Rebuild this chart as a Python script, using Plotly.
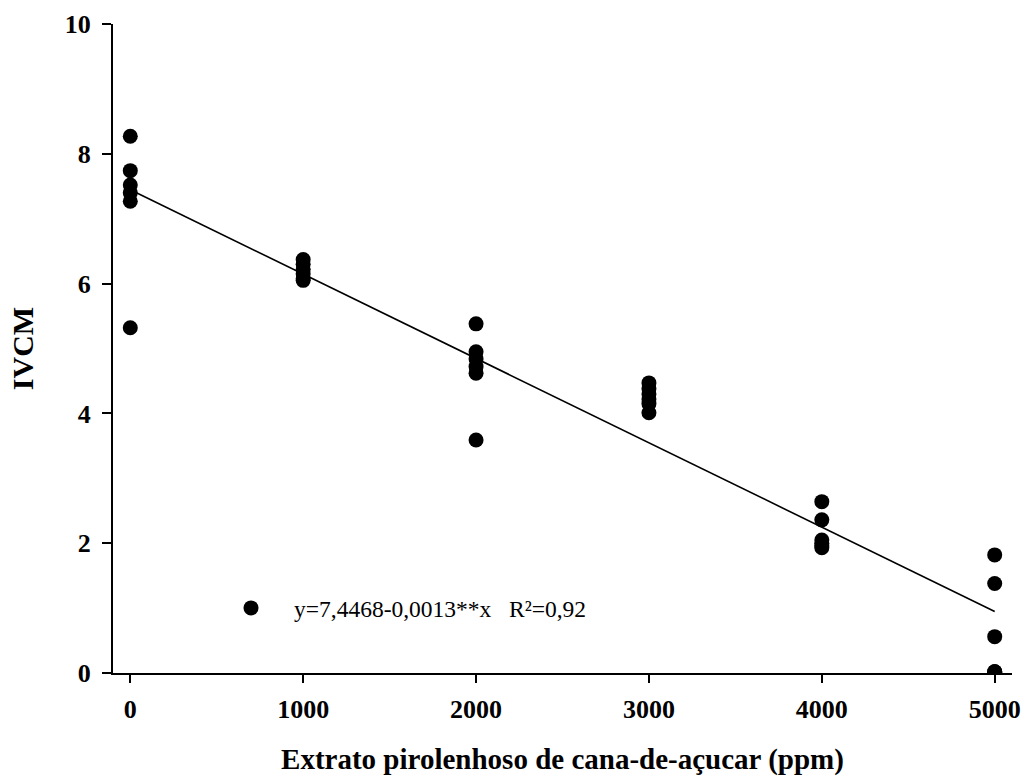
import plotly.graph_objects as go

# Doses of sugarcane pyroligneous extract (ppm) and observed IVCM per replicate
dose_ppm = [0] * 6 + [1000] * 6 + [2000] * 6 + [3000] * 6 + [4000] * 6 + [5000] * 6
ivcm = [
    8.27, 7.74, 7.52, 7.40, 7.27, 5.32,
    6.37, 6.30, 6.22, 6.15, 6.08, 6.05,
    5.38, 4.95, 4.84, 4.72, 4.62, 3.59,
    4.47, 4.38, 4.30, 4.22, 4.15, 4.01,
    2.64, 2.36, 2.05, 2.00, 1.96, 1.93,
    1.82, 1.38, 0.56, 0.02, 0.02, 0.02,
]

# Fitted linear model y = a + b*x
intercept = 7.4468
slope = -0.0013
fit_x = [0, 5000]
fit_y = [intercept + slope * v for v in fit_x]
equation_label = "y=7,4468-0,0013**x\u00a0\u00a0\u00a0R\u00b2=0,92"

x_ticks = [0, 1000, 2000, 3000, 4000, 5000]
y_ticks = [0, 2, 4, 6, 8, 10]

FONT = "Liberation Serif, Times New Roman, serif"

fig = go.Figure()
fig.add_trace(go.Scatter(
    x=fit_x, y=fit_y, mode="lines",
    line=dict(color="black", width=1.6),
    showlegend=False, hoverinfo="skip",
))
fig.add_trace(go.Scatter(
    x=dose_ppm, y=ivcm, mode="markers",
    marker=dict(color="black", size=15, line=dict(width=0)),
    name=equation_label,
))

fig.update_layout(
    width=1021, height=780,
    margin=dict(l=113, r=9, t=24, b=107),
    paper_bgcolor="white", plot_bgcolor="white",
    font=dict(family=FONT, color="black"),
    showlegend=True,
    legend=dict(
        x=0.1057, y=0.1, xanchor="left", yanchor="middle",
        bgcolor="rgba(0,0,0,0)", borderwidth=0,
        font=dict(family=FONT, size=23.5, color="black"),
        itemwidth=76,
    ),
    xaxis=dict(
        range=[-100, 5100], automargin=False,
        tickvals=x_ticks, ticktext=[str(v) for v in x_ticks],
        showgrid=False, zeroline=False,
        showline=True, linecolor="black", linewidth=2,
        ticks="outside", ticklen=8, tickwidth=2, tickcolor="black",
        tickfont=dict(family=FONT, size=26, color="black", weight="bold"),
        ticklabelstandoff=4, ticklabeloverflow="allow",
        title=dict(
            text="Extrato pirolenhoso de cana-de-açucar (ppm)",
            font=dict(family=FONT, size=29, color="black", weight="bold"),
            standoff=25,
        ),
    ),
    yaxis=dict(
        range=[0, 10], automargin=False,
        tickvals=y_ticks, ticktext=[str(v) for v in y_ticks],
        showgrid=False, zeroline=False,
        showline=True, linecolor="black", linewidth=2,
        ticks="outside", ticklen=9, tickwidth=2, tickcolor="black",
        tickfont=dict(family=FONT, size=26, color="black", weight="bold"),
        ticklabelstandoff=6, ticklabeloverflow="allow",
        title=dict(
            text="IVCM",
            font=dict(family=FONT, size=30, color="black", weight="bold"),
            standoff=22,
        ),
    ),
)

fig.write_html("out.html")
